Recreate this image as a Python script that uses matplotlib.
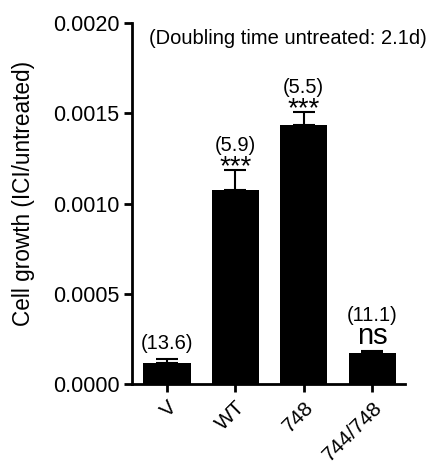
import matplotlib
matplotlib.use('Agg')
import matplotlib.pyplot as plt
from matplotlib.ticker import FormatStrFormatter

# 数据
groups = ['V', 'WT', '748', '744/748']
growth = [0.000117, 0.001075, 0.001435, 0.000172]
sem = [0.000022, 0.000111, 0.000072, 0.000012]
doubling = ['(13.6)', '(5.9)', '(5.5)', '(11.1)']
signif = ['', '***', '***', 'ns']
note = '(Doubling time untreated: 2.1d)'

plt.rcParams['font.family'] = ['Liberation Sans', 'DejaVu Sans']

fig = plt.figure(figsize=(4.29, 4.61), dpi=100)
ax = fig.add_axes([132 / 429, 1 - 384 / 461, 273 / 429, 361 / 461])

x = list(range(len(groups)))
ax.bar(x, growth, width=0.69, color='black', zorder=2)
ax.errorbar(x, growth, yerr=[[0] * len(sem), sem], fmt='none', ecolor='black',
            elinewidth=1.5, capsize=8, capthick=1.5, zorder=1)

# 标注：倍增时间和显著性
for i in x:
    top = growth[i] + sem[i]
    if signif[i] == '***':
        ax.annotate(signif[i], (i, top), xytext=(0, -3), textcoords='offset points',
                    ha='center', va='baseline', fontsize=20)
        ax.annotate(doubling[i], (i, top), xytext=(0, 13.5), textcoords='offset points',
                    ha='center', va='baseline', fontsize=14.5)
    elif signif[i] == 'ns':
        ax.annotate(signif[i], (i, top), xytext=(0, 5), textcoords='offset points',
                    ha='center', va='baseline', fontsize=21)
        ax.annotate(doubling[i], (i, top), xytext=(0, 21.5), textcoords='offset points',
                    ha='center', va='baseline', fontsize=14.5)
    else:
        ax.annotate(doubling[i], (i, top), xytext=(0, 7), textcoords='offset points',
                    ha='center', va='baseline', fontsize=14.5)

ax.text(0.57, 0.958, note, transform=ax.transAxes, ha='center', va='center',
        fontsize=14.5)

ax.set_xlim(-0.51, 3.48)
ax.set_ylim(0, 0.002)
ax.set_yticks([0, 0.0005, 0.001, 0.0015, 0.002])
ax.yaxis.set_major_formatter(FormatStrFormatter('%.4f'))
ax.set_xticks(x)
ax.set_xticklabels(groups, rotation=45, ha='right', va='top',
                   rotation_mode='anchor', fontsize=15)
ax.tick_params(axis='y', labelsize=15.5, width=2, length=6, pad=3)
ax.tick_params(axis='x', width=2, length=6, pad=4)

ax.set_ylabel('Cell growth (ICI/untreated)', fontsize=16.3)
ax.yaxis.set_label_coords(-0.355, 0.528)

for s in ['top', 'right']:
    ax.spines[s].set_visible(False)
for s in ['left', 'bottom']:
    ax.spines[s].set_linewidth(2)

fig.savefig('out.png', dpi=100)
